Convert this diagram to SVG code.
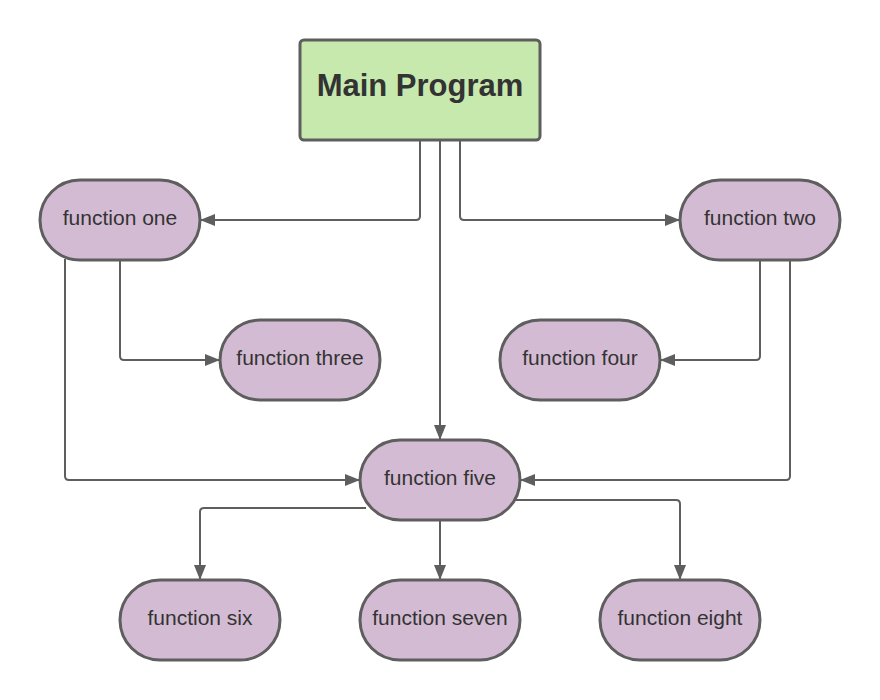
<svg xmlns="http://www.w3.org/2000/svg" width="880" height="700" viewBox="0 0 880 700">
<defs>
<marker id="arr" markerWidth="15" markerHeight="12" refX="14" refY="6" orient="auto" markerUnits="userSpaceOnUse">
<path d="M0,0 L15,6 L0,12 Z" fill="#5e5e5e"/>
</marker>
<style>
.n{fill:#d3bcd3;stroke:#5e5e5e;stroke-width:3}
.m{fill:#c7e9ae;stroke:#5e5e5e;stroke-width:3}
.t{font-family:"Liberation Sans",Arial,sans-serif;font-size:21px;fill:#333;text-anchor:middle;dominant-baseline:central}
.mt{font-family:"Liberation Sans",Arial,sans-serif;font-size:31px;font-weight:bold;fill:#333;text-anchor:middle;dominant-baseline:central}
.c{fill:none;stroke:#5e5e5e;stroke-width:2;marker-end:url(#arr)}
</style>
</defs>
<rect width="880" height="700" fill="#fff"/>
<g id="connectors">
<path class="c" d="M420,141 V216 Q420,220 416,220 H201"/>
<path class="c" d="M440,141 V439"/>
<path class="c" d="M460,141 V216 Q460,220 464,220 H679"/>
<path class="c" d="M120,261 V356 Q120,360 124,360 H219"/>
<path class="c" d="M65,259 V476 Q65,480 69,480 H359"/>
<path class="c" d="M760,261 V356 Q760,360 756,360 H661"/>
<path class="c" d="M790,261 V476 Q790,480 786,480 H521"/>
<path class="c" d="M366,508 H204 Q200,508 200,512 V579"/>
<path class="c" d="M440,521 V579"/>
<path class="c" d="M516,500 H676 Q680,500 680,504 V579"/>
</g>
<g id="main"><rect class="m" x="300" y="40" width="240" height="100" rx="4"/><text class="mt" x="420" y="85">Main Program</text></g>
<g id="one"><rect class="n" x="40" y="180" width="160" height="80" rx="40"/><text class="t" x="120" y="217">function one</text></g>
<g id="two"><rect class="n" x="680" y="180" width="160" height="80" rx="40"/><text class="t" x="760" y="217">function two</text></g>
<g id="three"><rect class="n" x="220" y="320" width="160" height="80" rx="40"/><text class="t" x="300" y="357">function three</text></g>
<g id="four"><rect class="n" x="500" y="320" width="160" height="80" rx="40"/><text class="t" x="580" y="357">function four</text></g>
<g id="five"><rect class="n" x="360" y="440" width="160" height="80" rx="40"/><text class="t" x="440" y="477">function five</text></g>
<g id="six"><rect class="n" x="120" y="580" width="160" height="80" rx="40"/><text class="t" x="200" y="617">function six</text></g>
<g id="seven"><rect class="n" x="360" y="580" width="160" height="80" rx="40"/><text class="t" x="440" y="617">function seven</text></g>
<g id="eight"><rect class="n" x="600" y="580" width="160" height="80" rx="40"/><text class="t" x="680" y="617">function eight</text></g>
</svg>
